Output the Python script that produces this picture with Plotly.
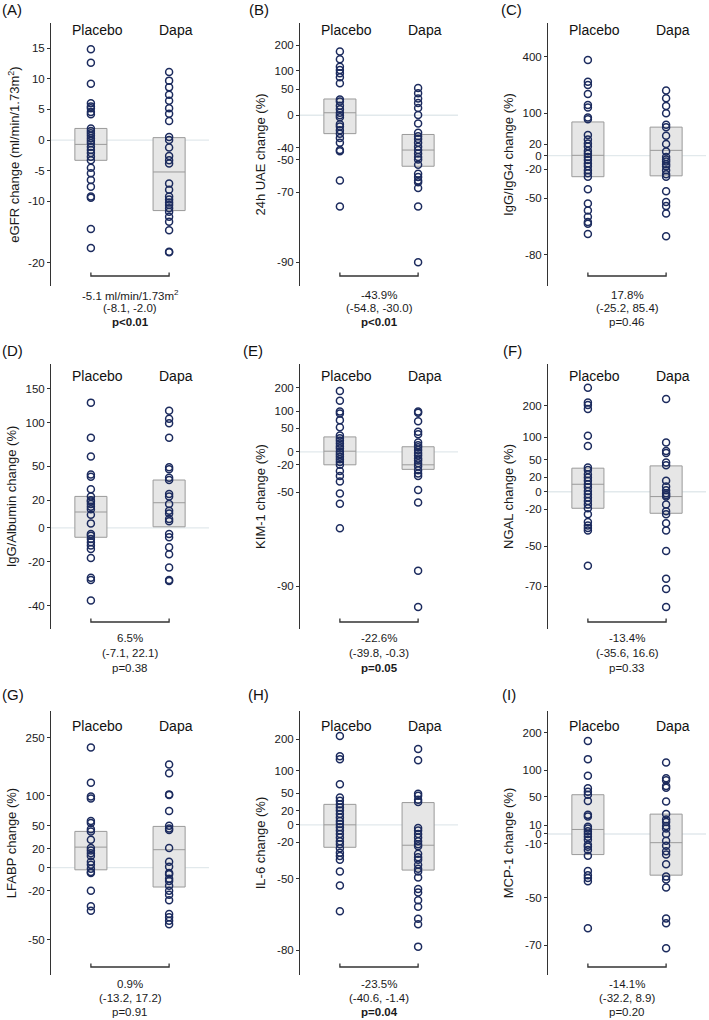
import math
import plotly.graph_objects as go

# ---- data (A: ml/min/1.73m2, others: % change) ----
groups = ["Placebo", "Dapa"]

egfr_placebo = [14.8, 12.6, 9.2, 6.0, 5.5, 5.2, 4.6, 4.2, 1.9, 1.5, 1.1, 0.7, 0.3, -0.1, -0.5,
                -1.1, -1.6, -2.1, -2.7, -3.3, -4.5, -5.4, -6.5, -7.6, -9.2, -9.4, -14.5, -17.6]
egfr_dapa = [11.1, 9.7, 8.6, 7.4, 6.4, 5.2, 4.3, 3.1, 0.5, 0.0, -1.2, -2.6, -3.3, -3.8, -7.1,
             -8.1, -9.2, -9.7, -10.2, -10.6, -11.1, -11.7, -12.5, -13.3, -14.7, -18.2, -18.3]

uae_placebo = [171, 140, 114, 103, 93, 81, 65, 28, 24, 16, 10, 4, 0, -3, -13, -16, -21, -25,
               -30, -35, -42, -43, -64, -76]
uae_dapa = [53, 41, 30, 21, 12, 0.5, -12, -24, -28, -31, -35, -39, -42, -45, -48, -50, -54,
            -60, -62, -64, -65, -68, -76, -90]

igg4_placebo = [374, 233, 216, 173, 128, 119, 86, 81, 40, 30, 22, 16, 8, 3, -2, -7, -12, -16,
                -21, -25, -29, -42, -54, -59, -63, -66, -67, -72]
igg4_dapa = [188, 154, 124, 99, 65, 59, 38, 21, 7, -2, -6, -9, -13, -16, -21, -26, -29, -44,
             -53, -56, -61, -73]

iggalb_placebo = [128, 81, 60, 42, 40, 29, 23, 20, 19, 17, 15, 13, 9, 3, -4, -5, -7, -9, -11,
                  -13, -18, -28, -29, -38]
iggalb_dapa = [116, 105, 99, 81, 49, 47, 39, 37, 25, 23, 17, 12, 10, 6, 4.5, -4, -6, -12, -16,
               -23, -29, -29.5]

kim1_placebo = [183, 140, 99, 93, 72, 52, 32, 26, 21, 15, 10, 6, 0, -4, -8, -12, -16, -20, -28,
                -34, -40, -51, -59, -73]
kim1_dapa = [99, 95, 69, 41, 35, 17, 12, 8, 3, -2, -6, -11, -14, -18, -22, -27, -31, -34, -48,
             -58, -87, -93]

ngal_placebo = [276, 212, 202, 187, 104, 79, 36, 32, 25, 20, 15, 10, 6, 1, -3, -7, -11, -15,
                -19, -25, -32, -35, -37, -39, -61]
ngal_dapa = [226, 87, 68, 64, 45, 40, 15, 7, 2, -2, -4, -6, -15, -22, -25, -33, -39, -53, -67,
             -71, -77]

lfabp_placebo = [219, 127, 99, 95, 57, 54, 45, 42, 31, 21, 18, 15, 12, 6, 3, -1, -4, -5, -20,
                 -31, -34]
lfabp_dapa = [171, 149, 103, 102, 73, 50, 46, 44, 21, 6, 1, -5, -6, -10, -12, -16, -20, -23,
              -27, -36, -38, -40, -42]

il6_placebo = [212, 141, 132, 68, 42, 36, 30, 25, 20, 15, 10, 5, 1, -3, -7, -11, -15, -19, -22,
               -26, -30, -33, -36, -45, -54, -67]
il6_dapa = [164, 129, 49, 45, 38, 34, -4, -7, -11, -15, -19, -22, -24, -31, -34, -36, -40, -43,
            -45, -49, -56, -58, -62, -65, -70, -72, -79]

mcp1_placebo = [174, 125, 88, 64, 58, 53, 43, 23, 21, 8, 6, 3, 0, -3, -6, -11, -13, -16, -21,
                -33, -36, -38, -40, -64]
mcp1_dapa = [117, 83, 79, 68, 65, 42, 24, 17, 14, 9, 6, 0, -7, -12, -17, -20, -28, -37, -39,
             -44, -60, -62, -71]

# box (q1, median, q3) per group
box_placebo = [(-3.3, -0.7, 1.9), (-25, 4, 29), (-29, 0.5, 73), (-6, 11, 23), (-20, 1, 29),
               (-19, 10, 35), (-2, 22, 42), (-25, 0, 30), (-20, 5, 53)]
box_dapa = [(-11.5, -5.2, 0.4), (-55, -42, -26), (-28, 9, 59), (0.7, 18, 37), (-26, -20, 9),
            (-24, -6, 39), (-17, 19, 49), (-44, -23, 33), (-36, -9, 24)]

letters = ["(A)", "(B)", "(C)", "(D)", "(E)", "(F)", "(G)", "(H)", "(I)"]
ytitles = ["eGFR change (ml/min/1.73m<sup>2</sup>)", "24h UAE change (%)", "IgG/IgG4 change (%)",
           "IgG/Albumin change (%)", "KIM-1 change (%)", "NGAL change (%)",
           "LFABP change (%)", "IL-6 change (%)", "MCP-1 change (%)"]
yticks = [[15, 10, 5, 0, -5, -10, -20], [200, 100, 50, 0, -40, -50, -70, -90],
          [400, 100, 20, 0, -20, -50, -80], [150, 100, 50, 20, 0, -20, -40],
          [200, 100, 50, 0, -20, -50, -90], [200, 100, 50, 20, 0, -20, -50, -70],
          [250, 100, 50, 20, 0, -20, -50], [200, 100, 50, 20, 0, -20, -50, -80],
          [200, 100, 50, 10, 0, -10, -50, -70]]
effects = ["-5.1 ml/min/1.73m<sup>2</sup>", "-43.9%", "17.8%", "6.5%", "-22.6%", "-13.4%",
           "0.9%", "-23.5%", "-14.1%"]
cis = ["(-8.1, -2.0)", "(-54.8, -30.0)", "(-25.2, 85.4)", "(-7.1, 22.1)", "(-39.8, -0.3)",
       "(-35.6, 16.6)", "(-13.2, 17.2)", "(-40.6, -1.4)", "(-32.2, 8.9)"]
pvals = ["p&lt;0.01", "p&lt;0.01", "p=0.46", "p=0.38", "p=0.05", "p=0.33", "p=0.91",
         "p=0.04", "p=0.20"]
p_bold = [True, True, False, False, True, False, False, True, False]

placebo = [egfr_placebo, uae_placebo, igg4_placebo, iggalb_placebo, kim1_placebo,
           ngal_placebo, lfabp_placebo, il6_placebo, mcp1_placebo]
dapa = [egfr_dapa, uae_dapa, igg4_dapa, iggalb_dapa, kim1_dapa, ngal_dapa, lfabp_dapa,
        il6_dapa, mcp1_dapa]

# ---- layout geometry (pixels) ----
W, H = 709, 1020
col_axis_x = [51, 300, 548]
plot_w = 158
row_axis = [(23, 286), (364, 629), (711, 975)]
row_label_y = [30, 376, 726]
row_bracket_y = [276, 622, 967]
row_text_y = [(295, 308, 322), (638, 653, 668), (984, 998, 1012)]
row_letter_y = [10, 350, 694]
letter_x = [0, 247, 499, 0, 241, 501, 0, 246, 500]
yranges = [(-23.8, 19.1), (-93.1, 324), (-88.0, 765), (-48.6, 194), (-95.2, 350),
           (-82.6, 409), (-64.5, 354), (-85.4, 330), (-78.3, 279)]

FONT = "Arial, Liberation Sans, sans-serif"
NAVY = "#1c2b5e"
TXT = "#1a1a1a"


def to_axis(v, is_log):
    return 1 + v / 100.0 if is_log else v


def py(p):
    return 1 - p / H


fig = go.Figure()
layout = {}
annotations = []
shapes = []

for i in range(9):
    r, c = divmod(i, 3)
    n = "" if i == 0 else str(i + 1)
    xa, ya = "x" + n, "y" + n
    is_log = i > 0
    x0 = col_axis_x[c]
    top, bot = row_axis[r]

    # boxes
    for gx, stats in ((1, box_placebo[i]), (2, box_dapa[i])):
        q1, med, q3 = [to_axis(v, is_log) for v in stats]
        fig.add_trace(go.Box(x=[gx], q1=[q1], median=[med], q3=[q3], lowerfence=[q1],
                             upperfence=[q3], width=0.41, whiskerwidth=0,
                             fillcolor="#e6e6e6", line=dict(color="#9a9a9a", width=1),
                             boxpoints=False, xaxis=xa, yaxis=ya, showlegend=False,
                             hoverinfo="skip"))
    # points
    for gx, vals in ((1, placebo[i]), (2, dapa[i])):
        fig.add_trace(go.Scatter(x=[gx] * len(vals), y=[to_axis(v, is_log) for v in vals],
                                 mode="markers", xaxis=xa, yaxis=ya, showlegend=False,
                                 marker=dict(symbol="circle-open", size=7, color=NAVY,
                                             line=dict(width=1.5, color=NAVY))))

    lo, hi = yranges[i]
    if is_log:
        yr = [math.log10(to_axis(lo, True)), math.log10(to_axis(hi, True))]
    else:
        yr = [lo, hi]
    layout["xaxis" + n] = dict(domain=[x0 / W, (x0 + plot_w) / W], range=[0.49, 2.51],
                               anchor=ya, visible=False, fixedrange=True)
    layout["yaxis" + n] = dict(domain=[py(bot), py(top)], range=yr, anchor=xa,
                               type="log" if is_log else "linear",
                               tickvals=[to_axis(t, is_log) for t in yticks[i]],
                               ticktext=[str(t) for t in yticks[i]],
                               showline=True, linecolor="#333333", linewidth=1,
                               ticks="outside", ticklen=3, tickcolor="#333333",
                               showgrid=False, zeroline=False,
                               tickfont=dict(size=11.5, color=TXT, family=FONT),
                               title=dict(text=ytitles[i], standoff=5,
                                          font=dict(size=13, color=TXT, family=FONT)))

    # zero line
    shapes.append(dict(type="line", xref=xa + " domain", yref=ya, x0=0, x1=1,
                       y0=to_axis(0, is_log), y1=to_axis(0, is_log),
                       line=dict(color="#e2e9ec", width=1.3), layer="below"))
    # bracket
    yb = py(row_bracket_y[r])
    yt = py(row_bracket_y[r] - 3.5)
    shapes.append(dict(type="path", xref=xa, yref="paper",
                       path=f"M 1,{yt} L 1,{yb} L 2,{yb} L 2,{yt}",
                       line=dict(color="#333333", width=1.3)))

    # group labels
    for gx, g in ((1, groups[0]), (2, groups[1])):
        annotations.append(dict(x=gx + 0.09, y=py(row_label_y[r]), xref=xa, yref="paper",
                                text=g, showarrow=False, xanchor="center", yanchor="middle",
                                font=dict(size=14, color="#111111", family=FONT)))
    # summary text
    lines = [effects[i], cis[i], f"<b>{pvals[i]}</b>" if p_bold[i] else pvals[i]]
    for txt, ty in zip(lines, row_text_y[r]):
        annotations.append(dict(x=1.5, y=py(ty), xref=xa, yref="paper", text=txt,
                                showarrow=False, xanchor="center", yanchor="middle",
                                font=dict(size=11.5, color=TXT, family=FONT)))
    # panel letter
    annotations.append(dict(x=letter_x[i] / W, y=py(row_letter_y[r]), xref="paper",
                            yref="paper", text=letters[i], showarrow=False, xanchor="left",
                            yanchor="middle",
                            font=dict(size=15, color="#111111", family=FONT)))

fig.update_layout(width=W, height=H, margin=dict(l=0, r=0, t=0, b=0),
                  paper_bgcolor="white", plot_bgcolor="white", showlegend=False,
                  hovermode=False, annotations=annotations, shapes=shapes, **layout)

# page body has a default 8px margin; drop it so the figure sits at the window's corner
fig.write_html("out.html", config={"displayModeBar": False},
               post_script="document.body.style.margin = '0';")
